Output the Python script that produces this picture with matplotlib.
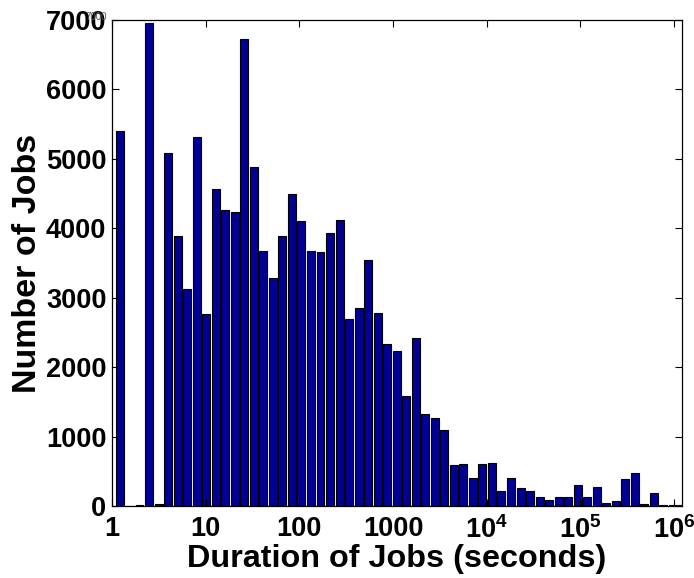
"""
Histogram of job durations on a log-scaled time axis
"""
import numpy as np
import matplotlib
matplotlib.use("Agg")
import matplotlib.pyplot as plt

plt.rcParams['font.family'] = ['Liberation Sans', 'DejaVu Sans']
plt.rcParams['font.weight'] = 'bold'
plt.rcParams['mathtext.fontset'] = 'custom'
plt.rcParams['mathtext.rm'] = 'Liberation Sans:bold'
plt.rcParams['mathtext.bf'] = 'Liberation Sans:bold'

# log10(seconds) bin range of the histogram and number of bins
log_first_bin = 0.09
log_last_bin = 6.09
n_bins = 60

# number of jobs per bin
job_counts = [
    5400, 0, 20, 6960, 35, 5085, 3890, 3125, 5310, 2770,
    4570, 4260, 4230, 6725, 4885, 3677, 3288, 3893, 4500, 4100,
    3677, 3658, 3937, 4115, 2698, 2847, 3543, 2775, 2338, 2237,
    1580, 2424, 1320, 1267, 1099, 586, 605, 404, 605, 624,
    220, 403, 254, 221, 125, 86, 125, 125, 307, 125,
    278, 48, 72, 384, 471, 25, 183, 20, 20, 20,
]

xtick_values = [1, 10, 100, 1000, 1e4, 1e5, 1e6]
xtick_labels = ['1', '10', '100', '1000',
                r'$\mathregular{10^4}$', r'$\mathregular{10^5}$', r'$\mathregular{10^6}$']
ytick_values = [0, 1000, 2000, 3000, 4000, 5000, 6000, 7000]


def main():
    centers = np.linspace(log_first_bin, log_last_bin, n_bins)
    half = 0.0425
    left = 10 ** (centers - half)
    widths = 10 ** (centers + half) - left

    fig = plt.figure(figsize=(6.94, 5.78), dpi=100)
    ax = fig.add_axes([0.1614, 0.1246, 0.8213, 0.8408])

    ax.bar(left, job_counts, width=widths, align='edge',
           color='#000094', edgecolor='black', linewidth=0.8)

    ax.set_xscale('log')
    ax.set_xlim(1, 10 ** 6.085)
    ax.set_ylim(0, 7000)
    ax.set_xticks(xtick_values)
    ax.set_xticklabels(xtick_labels)
    ax.xaxis.set_minor_locator(matplotlib.ticker.NullLocator())
    ax.set_yticks(ytick_values)

    ax.tick_params(axis='both', which='major', direction='in', length=5,
                   width=0.8, top=True, right=True, labelsize=19.5)
    ax.tick_params(axis='y', pad=4)
    ax.tick_params(axis='x', pad=7)
    for spine in ax.spines.values():
        spine.set_linewidth(0.9)

    ax.set_xlabel('Duration of Jobs (seconds)', fontsize=23.3, fontweight='bold', labelpad=0)
    ax.set_ylabel('Number of Jobs', fontsize=24.5, fontweight='bold', labelpad=2)

    # stray small label left over at the top of the y axis
    fig.text(0.154, 0.970, '7000', fontsize=7, color='#555555',
             ha='right', va='center', fontweight='normal')

    fig.savefig('out.png', dpi=100)


if __name__ == "__main__":
    main()
